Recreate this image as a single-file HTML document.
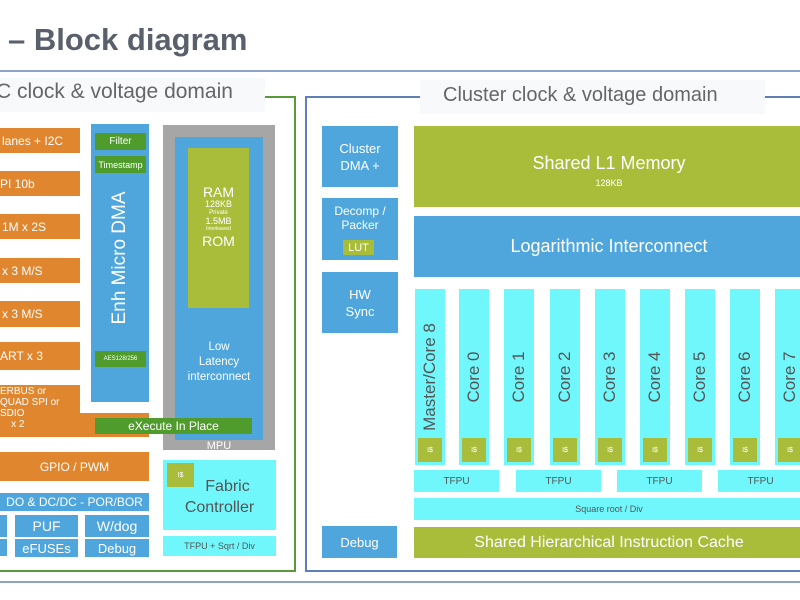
<!DOCTYPE html>
<html><head><style>
body{margin:0;width:800px;height:600px;background:#fff;position:relative;overflow:hidden;font-family:"Liberation Sans",sans-serif}
div{position:absolute;box-sizing:border-box}
.c{display:flex;align-items:center;justify-content:center;text-align:center;color:#fff}
.o{background:#e0862e;font-size:12px}
.b{background:#4ea6dc}
.g{background:#a9bd3b}
.dg{background:#4f9b2b}
.cy{background:#70f7fc}
.core{background:#70f7fc;width:30px;top:289px;height:176px}
.core span{position:absolute;left:50%;top:88px;transform:translate(-50%,-50%) rotate(-90deg);white-space:nowrap;font-size:17px;color:#555}
.is{background:#a9bd3b;left:3px;right:3px;top:149px;height:24px;font-size:7px;color:#fff;display:flex;align-items:center;justify-content:center}
.tf{background:#70f7fc;top:470px;height:22px;width:85px;font-size:10px;color:#555}
</style></head><body>
<div style="left:8px;top:22px;font-size:31px;font-weight:bold;color:#5a606b;white-space:nowrap">– Block diagram</div>
<div style="left:0;top:70px;width:800px;height:2px;background:#8ea1c9"></div>
<div style="left:0;top:581px;width:800px;height:2px;background:#8ea1c9"></div>

<!-- left domain -->
<div style="left:-3px;top:96px;width:299px;height:476px;border:2px solid #5a9a3a"></div>
<div style="left:0;top:78px;width:265px;height:34px;background:#f8f9fa"></div>
<div style="left:-4px;top:80px;font-size:21px;color:#666;white-space:nowrap">C clock &amp; voltage domain</div>

<div class="c o" style="left:0;top:128px;width:80px;height:25px;justify-content:flex-start;padding-left:2px">lanes + I2C</div>
<div class="c o" style="left:0;top:171px;width:80px;height:25px;justify-content:flex-start">PI 10b</div>
<div class="c o" style="left:0;top:214px;width:80px;height:25px;justify-content:flex-start;padding-left:2px">1M x 2S</div>
<div class="c o" style="left:0;top:258px;width:80px;height:25px;justify-content:flex-start;padding-left:2px">x 3 M/S</div>
<div class="c o" style="left:0;top:301px;width:80px;height:26px;justify-content:flex-start;padding-left:2px">x 3 M/S</div>
<div class="c o" style="left:0;top:342px;width:80px;height:28px;justify-content:flex-start">ART x 3</div>
<div class="o" style="left:0;top:385px;width:80px;height:52px"></div>
<div class="o" style="left:0;top:413px;width:149px;height:24px"></div>
<div style="left:0;top:386px;font-size:10px;color:#fff;line-height:11px">ERBUS or<br>QUAD SPI or<br>SDIO<br>&nbsp;&nbsp;&nbsp;&nbsp;x 2</div>
<div class="c o" style="left:0;top:452px;width:149px;height:29px">GPIO / PWM</div>
<div class="c b" style="left:0;top:493px;width:149px;height:18px;font-size:12px">DO &amp; DC/DC - POR/BOR</div>
<div class="b" style="left:0;top:515px;width:7px;height:22px"></div>
<div class="b" style="left:0;top:539px;width:7px;height:17px"></div>
<div class="c b" style="left:15px;top:515px;width:63px;height:22px;font-size:14px">PUF</div>
<div class="c b" style="left:85px;top:515px;width:64px;height:22px;font-size:14px">W/dog</div>
<div class="c b" style="left:15px;top:539px;width:63px;height:18px;font-size:13px">eFUSEs</div>
<div class="c b" style="left:85px;top:539px;width:64px;height:18px;font-size:13px">Debug</div>

<div class="b" style="left:91px;top:124px;width:58px;height:278px"></div>
<div class="c dg" style="left:95px;top:133px;width:51px;height:17px;font-size:10px">Filter</div>
<div class="c dg" style="left:95px;top:156px;width:51px;height:17px;font-size:9px">Timestamp</div>
<div style="left:120px;top:258px;transform:translate(-50%,-50%) rotate(-90deg);font-size:19px;color:#fff;white-space:nowrap">Enh Micro DMA</div>
<div class="c dg" style="left:95px;top:351px;width:51px;height:16px;font-size:6px">AES128/256</div>

<div style="left:163px;top:125px;width:112px;height:325px;background:#a6a6a6"></div>
<div class="b" style="left:175px;top:137px;width:88px;height:303px"></div>
<div class="g" style="left:188px;top:148px;width:61px;height:160px"></div>
<div style="left:188px;top:185px;width:61px;text-align:center;color:#fff;line-height:1.1">
<div style="position:static;font-size:14px">RAM</div>
<div style="position:static;font-size:9px">128KB</div>
<div style="position:static;font-size:6px">Private</div>
<div style="position:static;font-size:9px">1.5MB</div>
<div style="position:static;font-size:5px">Interleaved</div>
<div style="position:static;font-size:14px;margin-top:2px">ROM</div></div>
<div style="left:175px;top:340px;width:88px;text-align:center;color:#fff;font-size:11.5px;line-height:15px">Low<br>Latency<br>interconnect</div>
<div class="c" style="left:163px;top:440px;width:112px;height:12px;font-size:11px">MPU</div>
<div class="c dg" style="left:95px;top:418px;width:157px;height:16px;font-size:12px">eXecute In Place</div>

<div class="cy" style="left:163px;top:460px;width:113px;height:70px"></div>
<div class="c g" style="left:167px;top:463px;width:27px;height:24px;font-size:7px">I$</div>
<div style="left:163px;top:476px;width:113px;text-align:center;font-size:16px;color:#555;line-height:21px;padding-left:16px">Fabric<br><span style="margin-left:-16px">Controller</span></div>
<div class="c cy" style="left:163px;top:536px;width:113px;height:20px;font-size:9px;color:#555">TFPU + Sqrt / Div</div>

<!-- right domain -->
<div style="left:305px;top:96px;width:520px;height:476px;border:2px solid #5f7fb8"></div>
<div style="left:420px;top:80px;width:345px;height:34px;background:#f8f9fa"></div>
<div style="left:443px;top:84px;font-size:20px;color:#666;white-space:nowrap">Cluster clock &amp; voltage domain</div>

<div class="c b" style="left:322px;top:126px;width:76px;height:61px;font-size:13px;line-height:17px">Cluster<br>DMA +</div>
<div class="b" style="left:322px;top:198px;width:76px;height:62px"></div>
<div style="left:322px;top:204px;width:76px;text-align:center;color:#fff;font-size:12px;line-height:14px">Decomp /<br>Packer</div>
<div class="c g" style="left:343px;top:240px;width:31px;height:15px;font-size:11px">LUT</div>
<div class="c b" style="left:322px;top:272px;width:76px;height:61px;font-size:13px;line-height:17px">HW<br>Sync</div>
<div class="c b" style="left:322px;top:526px;width:75px;height:32px;font-size:13px">Debug</div>

<div class="g" style="left:414px;top:126px;width:390px;height:81px"></div>
<div style="left:414px;top:153px;width:390px;text-align:center;color:#fff;font-size:18px">Shared L1 Memory</div>
<div style="left:414px;top:178px;width:390px;text-align:center;color:#fff;font-size:9px">128KB</div>
<div class="c b" style="left:414px;top:216px;width:390px;height:61px;font-size:18px">Logarithmic Interconnect</div>

<div class="core" style="left:415px"><span>Master/Core 8</span><div class="is">I$</div></div>
<div class="core" style="left:459px"><span>Core 0</span><div class="is">I$</div></div>
<div class="core" style="left:504px"><span>Core 1</span><div class="is">I$</div></div>
<div class="core" style="left:550px"><span>Core 2</span><div class="is">I$</div></div>
<div class="core" style="left:595px"><span>Core 3</span><div class="is">I$</div></div>
<div class="core" style="left:640px"><span>Core 4</span><div class="is">I$</div></div>
<div class="core" style="left:685px"><span>Core 5</span><div class="is">I$</div></div>
<div class="core" style="left:730px"><span>Core 6</span><div class="is">I$</div></div>
<div class="core" style="left:775px"><span>Core 7</span><div class="is">I$</div></div>

<div class="c tf" style="left:414px">TFPU</div>
<div class="c tf" style="left:516px">TFPU</div>
<div class="c tf" style="left:617px">TFPU</div>
<div class="c tf" style="left:718px">TFPU</div>
<div class="c cy" style="left:414px;top:498px;width:390px;height:22px;font-size:9px;color:#555">Square root / Div</div>
<div class="c g" style="left:414px;top:527px;width:390px;height:31px;font-size:16px">Shared Hierarchical Instruction Cache</div>
</body></html>
